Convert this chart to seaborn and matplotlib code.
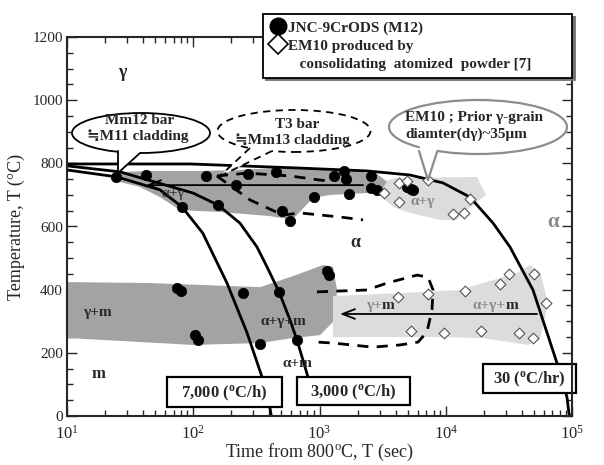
import numpy as np
import pandas as pd
import matplotlib
matplotlib.use('Agg')
import matplotlib.pyplot as plt
import seaborn as sns
from matplotlib.patches import Ellipse, Polygon, Rectangle
from matplotlib.lines import Line2D
from matplotlib.ticker import LogLocator, MultipleLocator, LogFormatterMathtext, NullFormatter

# ---------------- data ----------------
jnc_time = [24.4, 42.2, 126, 218, 81.5, 157, 272, 452, 505, 584, 904, 1303, 1563, 1622,
            1714, 2559, 2559, 2852, 4932, 5306, 5504,
            74.3, 80, 103, 109, 248, 338, 478, 663, 1146, 1189]
jnc_temp = [757, 763, 760, 731, 662, 668, 766, 772, 649, 617, 693, 760, 776, 750,
            703, 760, 722, 716, 725, 719, 716,
            405, 396, 256, 241, 389, 228, 393, 241, 459, 446]

em10_time = [4266, 4932, 7230, 3243, 4266, 15560, 11400, 13960,
             4188, 7230, 5306, 9680, 14190, 26900, 31700, 50000, 62230, 19010, 38020, 49100]
em10_temp = [738, 744, 747, 706, 678, 687, 640, 643,
             377, 386, 269, 263, 396, 418, 450, 450, 358, 269, 263, 247]

curve7000_time = [10, 24.9, 54.5, 81.5, 119, 185, 267, 351, 405, 415]
curve7000_temp = [779, 757, 716, 662, 579, 421, 263, 123, 25, 0]
curve3000_time = [10, 26.3, 99.5, 157, 234, 320, 384, 478, 584, 663, 811, 880]
curve3000_temp = [792, 773, 706, 668, 611, 535, 472, 393, 304, 241, 123, 40]
curve30_time = [10, 94, 701, 2379, 5210, 9510, 15560, 23680, 32280, 49100, 76000, 91200, 94600, 96000]
curve30_temp = [798, 798, 785, 776, 763, 738, 693, 611, 535, 399, 168, 60, 9, 0]

# shaded regions
jnc_ag_time = [24.4, 45.4, 113, 234, 429, 1009, 1592, 2852, 3750, 3304, 1745, 1211, 889, 606, 405, 163, 78.5, 54.5, 37.9, 24.4]
jnc_ag_temp = [772, 776, 776, 779, 785, 782, 779, 766, 731, 709, 703, 700, 690, 621, 633, 646, 652, 693, 725, 744]
em_ag_time = [3013, 3490, 4110, 17700, 18670, 20840, 14730, 12270, 9000, 5210, 3820, 3126]
em_ag_temp = [709, 747, 754, 757, 738, 700, 652, 621, 621, 643, 662, 693]
jnc_gm_time = [10, 45.4, 113, 338, 617, 1067, 1279, 1376, 1327, 1009, 617, 338, 99.5, 10]
jnc_gm_temp = [424, 421, 415, 408, 443, 478, 472, 399, 304, 256, 247, 231, 225, 247]
em_gm_time = [1279, 4340, 12970, 36650, 46450, 55800, 64560, 55800, 44030, 19720, 7930, 1279]
em_gm_temp = [380, 389, 399, 453, 478, 456, 358, 241, 225, 247, 250, 250]

# dashed T3 outlines
t3_up_top_time = [154, 267, 584, 1009, 1211]
t3_up_top_temp = [760, 769, 760, 747, 744]
t3_up_bot_time = [154, 282, 514, 701, 1453, 2211]
t3_up_bot_temp = [760, 684, 636, 643, 630, 621]
t3_low_time = [955, 2379, 3425, 5920, 7230, 7930, 7780, 7100, 6030, 4340, 2650, 1279, 955]
t3_low_temp = [393, 399, 421, 446, 440, 399, 336, 266, 234, 225, 218, 231, 234]

legend_labels = ['JNC-9CrODS (M12)', 'EM10 produced by', '   consolidating  atomized  powder [7]']
rate_labels = ['7,000 ($^{\\mathbf{o}}$C/h)', '3,000 ($^{\\mathbf{o}}$C/h)', '30 ($^{\\mathbf{o}}$C/hr)']

# ---------------- style ----------------
sns.set_style('ticks')
plt.rcParams['font.family'] = ['Liberation Serif', 'DejaVu Sans', 'Noto Sans CJK JP']
plt.rcParams['mathtext.fontset'] = 'custom'
plt.rcParams['mathtext.rm'] = 'Liberation Serif'
plt.rcParams['mathtext.bf'] = 'Liberation Serif:bold'
plt.rcParams['mathtext.it'] = 'Liberation Serif:italic'

fig = plt.figure(figsize=(6.04, 4.65), dpi=100)
L, R, T, B = 67, 572, 37, 416
W, H = 604, 465
ax = fig.add_axes([L / W, 1 - B / H, (R - L) / W, (B - T) / H])


def px(x, y):
    return ((x - L) / (R - L), (B - y) / (B - T))


ax.set_xscale('log')
ax.set_xlim(10, 1e5)
ax.set_ylim(0, 1200)

DARK = '#a3a3a3'
LIGHT = '#dcdcdc'
ax.fill(jnc_ag_time, jnc_ag_temp, color=DARK, lw=0, zorder=1)
ax.fill(jnc_gm_time, jnc_gm_temp, color=DARK, lw=0, zorder=1)
ax.fill(em_ag_time, em_ag_temp, color=LIGHT, lw=0, zorder=1)
ax.fill(em_gm_time, em_gm_temp, color=LIGHT, lw=0, zorder=1)

# dashed outlines
for tt, vv in [(t3_up_top_time, t3_up_top_temp), (t3_up_bot_time, t3_up_bot_temp), (t3_low_time, t3_low_temp)]:
    df = pd.DataFrame({'t': tt, 'T': vv})
    sns.lineplot(data=df, x='t', y='T', sort=False, estimator=None, ax=ax,
                 color='k', lw=2.0, ls=(0, (4, 3)), zorder=3)

# cooling curves
for tt, vv in [(curve7000_time, curve7000_temp), (curve3000_time, curve3000_temp), (curve30_time, curve30_temp)]:
    df = pd.DataFrame({'t': tt, 'T': vv})
    sns.lineplot(data=df, x='t', y='T', sort=False, estimator=None, ax=ax,
                 color='k', lw=2.0, zorder=4)

# arrows
ax.annotate('', xy=(42.2, 731), xytext=(2211, 731),
            arrowprops=dict(arrowstyle='->,head_length=0.9,head_width=0.35', lw=1.3, color='k',
                            shrinkA=0, shrinkB=0), zorder=5)
ax.annotate('', xy=(1453, 323), xytext=(52800, 323),
            arrowprops=dict(arrowstyle='->,head_length=0.9,head_width=0.35', lw=1.3, color='k',
                            shrinkA=0, shrinkB=0), zorder=5)

# points
jdf = pd.DataFrame({'t': jnc_time, 'T': jnc_temp})
edf = pd.DataFrame({'t': em10_time, 'T': em10_temp})
sns.scatterplot(data=jdf, x='t', y='T', ax=ax, marker='o', s=56, color='k',
                edgecolor='k', linewidth=0.5, zorder=6)
sns.scatterplot(data=edf, x='t', y='T', ax=ax, marker='D', s=30, facecolor='white',
                edgecolor='#555555', linewidth=0.8, zorder=6)

# ---------------- axes ----------------
ax.xaxis.set_major_locator(LogLocator(base=10, numticks=10))
ax.xaxis.set_minor_locator(LogLocator(base=10, subs=np.arange(2, 10), numticks=40))
ax.xaxis.set_major_formatter(LogFormatterMathtext())
ax.xaxis.set_minor_formatter(NullFormatter())
ax.yaxis.set_major_locator(MultipleLocator(200))
ax.yaxis.set_minor_locator(MultipleLocator(50))
ax.tick_params(which='both', direction='in', top=True, right=True, width=1.0)
ax.tick_params(which='major', length=7)
ax.tick_params(which='minor', length=4)
ax.tick_params(axis='x', pad=6, labelsize=12)
ax.tick_params(axis='y', pad=3, labelsize=11)
for sp in ax.spines.values():
    sp.set_linewidth(1.5)
    sp.set_zorder(10)
ax.set_xlabel('Time from 800$^{\\rm o}$C, T (sec)', fontsize=13, labelpad=0)
ax.set_ylabel('Temperature, T (°C)', fontsize=13, labelpad=5)

# ---------------- phase labels ----------------
tb = dict(fontweight='bold')
ax.text(27.3, 1089, 'γ', fontsize=13, ha='center', va='center', **tb)
ax.text(1910, 548, 'α', fontsize=13, ha='center', va='center', **tb)
ax.text(70800, 614, 'α', fontsize=15, ha='center', va='center', color='#888888', **tb)
ax.text(69.2, 706, 'α+γ', fontsize=11, ha='center', va='center', zorder=7)
ax.text(6600, 678, 'α+γ', fontsize=11, ha='center', va='center', color='#888888', zorder=7, **tb)
ax.text(17.3, 329, 'γ+m', fontsize=11, ha='center', va='center', zorder=7, **tb)
ax.text(514, 298, 'α+γ+m', fontsize=11, ha='center', va='center', zorder=7, **tb)
ax.text(663, 165, 'α+m', fontsize=11, ha='center', va='center', zorder=7, **tb)
ax.text(17.6, 133, 'm', fontsize=12, ha='center', va='center', zorder=7, **tb)
t1 = ax.text(3100, 351, 'γ+', fontsize=11, ha='right', va='center', color='#888888', zorder=7, **tb)
ax.annotate('m', xy=(1, 0.5), xycoords=t1, ha='left', va='center', fontsize=11, zorder=7, **tb)
t2 = ax.text(30000, 351, 'α+γ+', fontsize=11, ha='right', va='center', color='#888888', zorder=7, **tb)
ax.annotate('m', xy=(1, 0.5), xycoords=t2, ha='left', va='center', fontsize=11, zorder=7, **tb)

# ---------------- callouts ----------------
def bubble(cx, cy, w, h, base1, base2, tip, ls='-', ec='k', lw=1.3, cover=None):
    c = px(cx, cy)
    e = Ellipse(c, w / (R - L), h / (B - T), transform=ax.transAxes, facecolor='white',
                edgecolor=ec, lw=lw, ls=ls, zorder=8, clip_on=False)
    ax.add_patch(e)
    p = Polygon([px(*base1), px(*tip), px(*base2), px(*cover[1]), px(*cover[0])],
                closed=True, transform=ax.transAxes, facecolor='white', edgecolor='none', zorder=8.5)
    ax.add_patch(p)
    for b in (base1, base2):
        ax.add_line(Line2D([px(*b)[0], px(*tip)[0]], [px(*b)[1], px(*tip)[1]], transform=ax.transAxes,
                           color=ec, lw=lw, ls=ls, zorder=8.6))


SYMF = ['Liberation Serif', 'DejaVu Sans', 'Noto Sans CJK JP']
bubble(141, 133, 138, 40, (118, 151), (140, 153), (118, 173), cover=[(119, 146), (139, 147)])
ax.text(*px(140, 121), 'Mm12 bar', transform=ax.transAxes, ha='center', va='center', fontsize=11,
        fontweight='bold', zorder=9)
ax.text(*px(138, 136), '≒M11 cladding', transform=ax.transAxes, ha='center', va='center', fontsize=11,
        fontweight='bold', zorder=9, family=SYMF)

bubble(294, 131, 153, 42, (250, 148), (272, 151), (220, 176), ls=(0, (4, 3)),
       cover=[(252, 144), (272, 146)])
ax.text(*px(297, 124), 'T3 bar', transform=ax.transAxes, ha='center', va='center', fontsize=11,
        fontweight='bold', zorder=9)
ax.text(*px(292, 140), '≒Mm13 cladding', transform=ax.transAxes, ha='center', va='center', fontsize=11,
        fontweight='bold', zorder=9, family=SYMF)

bubble(478, 127, 178, 54, (419, 151), (437, 152), (428, 180), ec='#8c8c8c', lw=1.6,
       cover=[(420, 146), (436, 147)])
ax.text(*px(405, 117), 'EM10 ; Prior γ-grain', transform=ax.transAxes, ha='left', va='center',
        fontsize=11, fontweight='bold', zorder=9)
ax.text(*px(405, 134), 'diamter(dγ)~35μm', transform=ax.transAxes, ha='left', va='center',
        fontsize=11, fontweight='bold', zorder=9)

# ---------------- rate boxes ----------------
for (x0, y0, x1, y1), lab in zip([(167, 377, 282, 407), (297, 377, 410, 405), (483, 364, 576, 393)],
                                 rate_labels):
    a0 = px(x0, y1)
    a1 = px(x1, y0)
    ax.add_patch(Rectangle(a0, a1[0] - a0[0], a1[1] - a0[1], transform=ax.transAxes,
                           facecolor='white', edgecolor='k', lw=1.6, zorder=9, clip_on=False))
    ax.text(*px((x0 + x1) / 2, (y0 + y1) / 2 + 1), lab, transform=ax.transAxes, ha='center',
            va='center', fontsize=12, fontweight='bold', zorder=10)

# ---------------- legend ----------------
handles = [Line2D([], [], marker='o', ls='', mfc='k', mec='k', ms=12),
           Line2D([], [], marker='D', ls='', mfc='white', mec='k', mew=1.2, ms=10),
           Line2D([], [], ls='', marker='')]
lx0, ly0 = px(263, 78)
lx1, ly1 = px(572, 14)
leg = ax.legend(handles, legend_labels, loc='upper left', bbox_to_anchor=(lx0, ly0, lx1 - lx0, ly1 - ly0),
                mode='expand', frameon=True, fancybox=False, edgecolor='k', framealpha=1,
                borderpad=0.45, labelspacing=0.28, handletextpad=0.2, handlelength=1.0, borderaxespad=0,
                prop=dict(weight='bold', size=11), shadow={'color': '0.45', 'alpha': 1})
leg.get_frame().set_linewidth(1.3)
leg.set_zorder(12)

fig.savefig('out.png', dpi=100)
